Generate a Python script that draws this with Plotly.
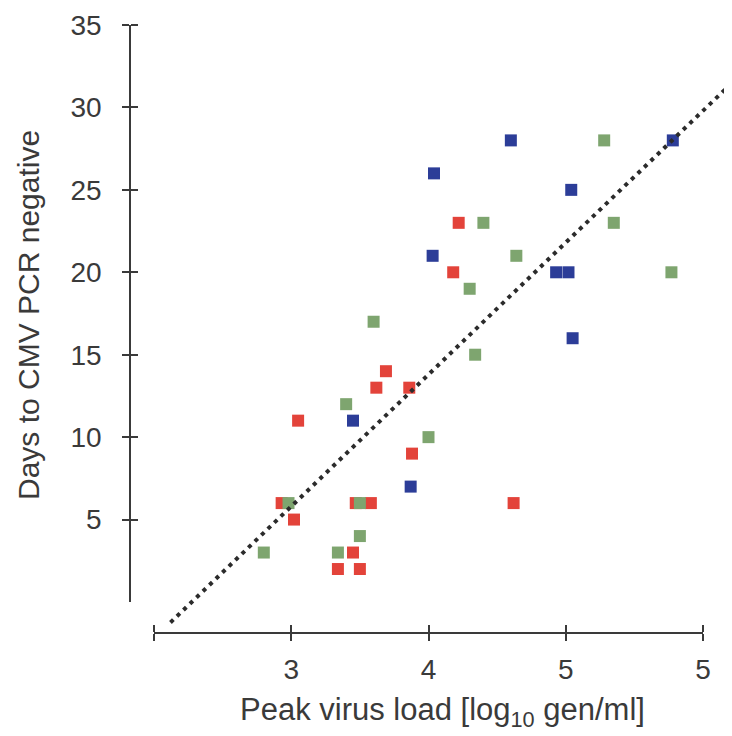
import plotly.graph_objects as go

# Peak virus load [log10] vs days to CMV PCR negative
red_x = [3.05, 3.88, 2.93, 3.02, 3.47, 3.58, 3.45, 3.34, 3.50, 4.22, 4.18, 3.69, 3.62, 3.86, 4.62]
red_y = [11, 9, 6, 5, 6, 6, 3, 2, 2, 23, 20, 14, 13, 13, 6]

green_x = [3.40, 4.00, 2.98, 3.50, 3.50, 2.80, 3.34, 4.40, 4.64, 4.30, 5.28, 5.35, 5.77, 3.60, 4.34]
green_y = [12, 10, 6, 6, 4, 3, 3, 23, 21, 19, 28, 23, 20, 17, 15]

blue_x = [3.45, 3.87, 4.60, 4.04, 5.04, 4.03, 4.93, 5.02, 5.05, 5.78]
blue_y = [11, 7, 28, 26, 25, 21, 20, 20, 16, 28]

# dotted reference line: days = slope * load + intercept
fit_slope = 8.0
fit_intercept = -18.2
fit_x = [2.12, 6.4]
fit_y = [fit_slope * v + fit_intercept for v in fit_x]

x_tickvals = [2, 3, 4, 5, 6]
x_ticktext = ["", "3", "4", "5", "5"]
y_tickvals = [5, 10, 15, 20, 25, 30, 35]

# page has an 8px body margin, so the figure is a bit smaller than the window
OFF = 8
W, H = 732 - OFF, 736 - OFF
FONT = "Liberation Sans, Arial, sans-serif"
INK = "#3a3a3a"

# wanted positions, in window pixels
x_left, x_right = 154, 703      # x = 2 .. 6
y_bot, y_top = 602, 25          # y = 0 .. 35
x_axis_px = 633
y_axis_px = 130
x0, x1 = 2, 6
y0, y1 = 0, 35
xs = (x_right - x_left) / (x1 - x0)
ys = (y_bot - y_top) / (y1 - y0)


def fx(px):
    return (px - OFF) / W


def fy(py):
    return 1 - (py - OFF) / H


fig = go.Figure()

sq = dict(symbol="square", size=12, line=dict(width=0))
fig.add_trace(go.Scatter(x=red_x, y=red_y, mode="markers",
                         marker=dict(color="#e3433a", **sq), showlegend=False))
fig.add_trace(go.Scatter(x=green_x, y=green_y, mode="markers",
                         marker=dict(color="#7ea56f", **sq), showlegend=False))
fig.add_trace(go.Scatter(x=blue_x, y=blue_y, mode="markers",
                         marker=dict(color="#2c3d98", **sq), showlegend=False))
fig.add_trace(go.Scatter(x=fit_x, y=fit_y, mode="lines", xaxis="x2", yaxis="y2",
                         line=dict(color="#2b2b2b", width=4, dash="4px,5px"),
                         showlegend=False, hoverinfo="skip"))

tick_font = dict(family=FONT, size=28, color=INK)
common = dict(showgrid=False, zeroline=False, showline=True, linecolor=INK,
              linewidth=1.5, ticks="outside", tickcolor=INK, tickwidth=1.5,
              ticklen=7, tickfont=tick_font, automargin=False)


def cross_ticks(vals):
    # inside half of the crossing tick marks
    return dict(ticks="inside", tickmode="array", ticklen=7, tickwidth=1.5,
                tickcolor=INK, showgrid=False,
                tickvals=[v + 1e-4 for v in vals])


fig.update_layout(
    width=W, height=H,
    margin=dict(l=0, r=0, t=0, b=0),
    paper_bgcolor="white",
    plot_bgcolor="rgba(0,0,0,0)",
    xaxis=dict(domain=[fx(x_left), fx(x_right)], range=[x0, x1],
               anchor="free", position=fy(x_axis_px),
               tickvals=x_tickvals, ticktext=x_ticktext,
               ticklabelstandoff=5, minor=cross_ticks(x_tickvals), **common),
    yaxis=dict(domain=[fy(y_bot), fy(y_top)], range=[y0, y1],
               anchor="free", position=fx(y_axis_px),
               tickvals=y_tickvals, ticklabelstandoff=15,
               minor=cross_ticks(y_tickvals), **common),
    xaxis2=dict(domain=[fx(y_axis_px), 1],
                range=[x0 - (x_left - y_axis_px) / xs, x1 + (732 - x_right) / xs],
                anchor="y2", visible=False),
    yaxis2=dict(domain=[fy(640), fy(y_top)],
                range=[y0 - (640 - y_bot) / ys, y1],
                anchor="x2", visible=False),
    annotations=[
        dict(text="Peak virus load [log<sub>10</sub> gen/ml]",
             x=fx(442), y=fy(734), xref="paper", yref="paper",
             xanchor="center", yanchor="bottom",
             showarrow=False, font=dict(family=FONT, size=31, color=INK)),
        dict(text="Days to CMV PCR negative", textangle=-90,
             x=fx(28), y=fy(315), xref="paper", yref="paper",
             xanchor="center", yanchor="middle",
             showarrow=False, font=dict(family=FONT, size=30, color=INK)),
    ],
)

fig.write_html("out.html")
